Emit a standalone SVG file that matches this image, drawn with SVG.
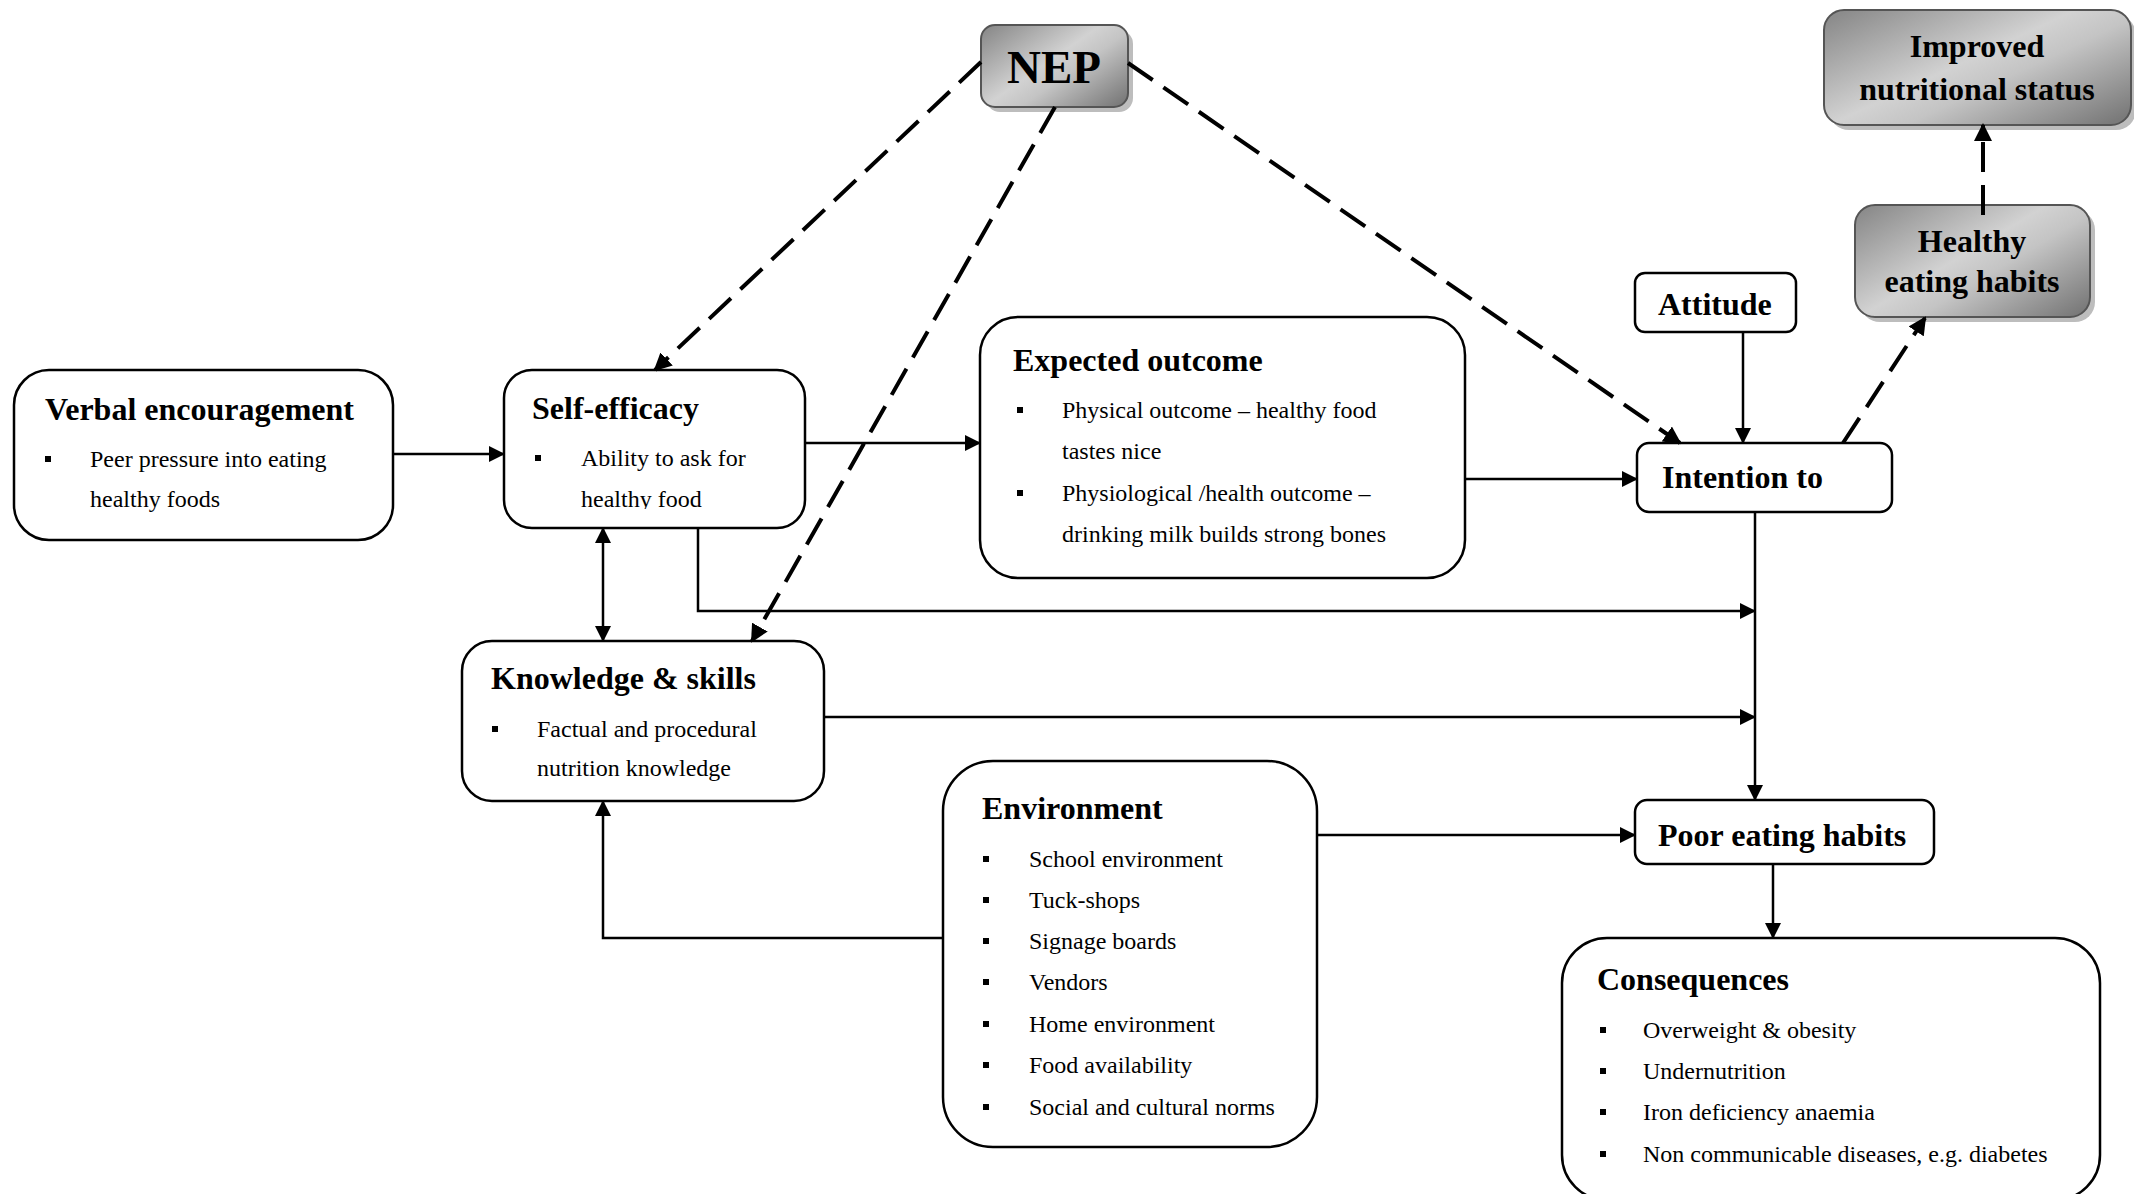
<svg xmlns="http://www.w3.org/2000/svg" xmlns:xlink="http://www.w3.org/1999/xlink" width="2134" height="1194" viewBox="0 0 2134 1194">
  <style>
    .box { fill: #fff; stroke: #000; stroke-width: 2.5; }
    .gbox { fill: url(#grey); stroke: #555; stroke-width: 2; }
    .shadow { fill: #bdbdbd; }
    .t { font-family: "Liberation Serif", "Times New Roman", serif; font-weight: bold; font-size: 32px; fill: #000; }
    .nep { font-family: "Liberation Serif", "Times New Roman", serif; font-weight: bold; font-size: 47px; fill: #000; }
    .b { font-family: "Liberation Serif", "Times New Roman", serif; font-size: 24px; fill: #000; }
    .ln { fill: none; stroke: #000; stroke-width: 2.5; }
    .dash { fill: none; stroke: #000; stroke-width: 4; stroke-dasharray: 30 13; }
  </style>
  <defs>
    <linearGradient id="grey" x1="0" y1="0.1" x2="1" y2="0.9">
      <stop offset="0" stop-color="#8c8c8c"/>
      <stop offset="0.45" stop-color="#d2d2d2"/>
      <stop offset="0.6" stop-color="#c4c4c4"/>
      <stop offset="1" stop-color="#7a7a7a"/>
    </linearGradient>
    <marker id="ah" viewBox="0 0 16 16" markerWidth="16" markerHeight="16" refX="15" refY="8" orient="auto-start-reverse" markerUnits="userSpaceOnUse">
      <path d="M0,0 L16,8 L0,16 z" fill="#000"/>
    </marker>
    <marker id="ahd" viewBox="0 0 18 18" markerWidth="18" markerHeight="18" refX="16" refY="9" orient="auto" markerUnits="userSpaceOnUse">
      <path d="M0,0 L18,9 L0,18 z" fill="#000"/>
    </marker>
    <rect id="bu" width="6" height="6" fill="#000"/>
    <clipPath id="clipSelf">
      <rect x="504" y="370" width="301" height="139"/>
    </clipPath>
  </defs>

  <rect width="2134" height="1194" fill="#fff"/>

  <!-- NEP -->
  <g id="nep">
    <rect class="shadow" x="986" y="30" width="147" height="82" rx="14"/>
    <rect class="gbox" x="981" y="25" width="147" height="82" rx="14"/>
    <text class="nep" x="1054" y="83" text-anchor="middle">NEP</text>
  </g>

  <!-- Improved nutritional status -->
  <g id="improved">
    <rect class="shadow" x="1829" y="15" width="307" height="115" rx="20"/>
    <rect class="gbox" x="1824" y="10" width="307" height="115" rx="20"/>
    <text class="t" x="1977" y="57" text-anchor="middle">Improved</text>
    <text class="t" x="1977" y="100" text-anchor="middle">nutritional status</text>
  </g>

  <!-- Healthy eating habits -->
  <g id="healthy">
    <rect class="shadow" x="1860" y="210" width="235" height="112" rx="20"/>
    <rect class="gbox" x="1855" y="205" width="235" height="112" rx="20"/>
    <text class="t" x="1972" y="252" text-anchor="middle">Healthy</text>
    <text class="t" x="1972" y="292" text-anchor="middle">eating habits</text>
  </g>

  <!-- Verbal encouragement -->
  <g id="verbal">
    <rect class="box" x="14" y="370" width="379" height="170" rx="35"/>
    <text class="t" x="45" y="420">Verbal encouragement</text>
    <use xlink:href="#bu" x="45" y="456"/>
    <text class="b" x="90" y="467">Peer pressure into eating</text>
    <text class="b" x="90" y="507">healthy foods</text>
  </g>

  <!-- Self-efficacy -->
  <g id="self-efficacy">
    <rect class="box" x="504" y="370" width="301" height="158" rx="28"/>
    <text class="t" x="532" y="419">Self-efficacy</text>
    <use xlink:href="#bu" x="535" y="455"/>
    <g clip-path="url(#clipSelf)">
      <text class="b" x="581" y="466">Ability to ask for</text>
      <text class="b" x="581" y="507">healthy food</text>
    </g>
  </g>

  <!-- Expected outcome -->
  <g id="expected-outcome">
    <rect class="box" x="980" y="317" width="485" height="261" rx="38"/>
    <text class="t" x="1013" y="371">Expected outcome</text>
    <use xlink:href="#bu" x="1017" y="407"/>
    <text class="b" x="1062" y="418">Physical outcome – healthy food</text>
    <text class="b" x="1062" y="459">tastes nice</text>
    <use xlink:href="#bu" x="1017" y="490"/>
    <text class="b" x="1062" y="501">Physiological /health outcome –</text>
    <text class="b" x="1062" y="542">drinking milk builds strong bones</text>
  </g>

  <!-- Attitude -->
  <g id="attitude">
    <rect class="box" x="1635" y="273" width="161" height="59" rx="10"/>
    <text class="t" x="1658" y="315">Attitude</text>
  </g>

  <!-- Intention to -->
  <g id="intention">
    <rect class="box" x="1637" y="443" width="255" height="69" rx="12"/>
    <text class="t" x="1662" y="488">Intention to</text>
  </g>

  <!-- Knowledge & skills -->
  <g id="knowledge">
    <rect class="box" x="462" y="641" width="362" height="160" rx="30"/>
    <text class="t" x="491" y="689">Knowledge &amp; skills</text>
    <use xlink:href="#bu" x="492" y="726"/>
    <text class="b" x="537" y="737">Factual and procedural</text>
    <text class="b" x="537" y="776">nutrition knowledge</text>
  </g>

  <!-- Environment -->
  <g id="environment">
    <rect class="box" x="943" y="761" width="374" height="386" rx="50"/>
    <text class="t" x="982" y="819">Environment</text>
    <use xlink:href="#bu" x="983" y="856"/>
    <text class="b" x="1029" y="867">School environment</text>
    <use xlink:href="#bu" x="983" y="897"/>
    <text class="b" x="1029" y="908">Tuck-shops</text>
    <use xlink:href="#bu" x="983" y="938"/>
    <text class="b" x="1029" y="949">Signage boards</text>
    <use xlink:href="#bu" x="983" y="979"/>
    <text class="b" x="1029" y="990">Vendors</text>
    <use xlink:href="#bu" x="983" y="1021"/>
    <text class="b" x="1029" y="1032">Home environment</text>
    <use xlink:href="#bu" x="983" y="1062"/>
    <text class="b" x="1029" y="1073">Food availability</text>
    <use xlink:href="#bu" x="983" y="1104"/>
    <text class="b" x="1029" y="1115">Social and cultural norms</text>
  </g>

  <!-- Poor eating habits -->
  <g id="poor-eating">
    <rect class="box" x="1635" y="800" width="299" height="64" rx="12"/>
    <text class="t" x="1658" y="846">Poor eating habits</text>
  </g>

  <!-- Consequences -->
  <g id="consequences">
    <rect class="box" x="1562" y="938" width="538" height="262" rx="45"/>
    <text class="t" x="1597" y="990">Consequences</text>
    <use xlink:href="#bu" x="1600" y="1027"/>
    <text class="b" x="1643" y="1038">Overweight &amp; obesity</text>
    <use xlink:href="#bu" x="1600" y="1068"/>
    <text class="b" x="1643" y="1079">Undernutrition</text>
    <use xlink:href="#bu" x="1600" y="1109"/>
    <text class="b" x="1643" y="1120">Iron deficiency anaemia</text>
    <use xlink:href="#bu" x="1600" y="1151"/>
    <text class="b" x="1643" y="1162">Non communicable diseases, e.g. diabetes</text>
  </g>

  <!-- Connectors -->
  <g id="connectors">
    <path class="ln" d="M393,454 H504" marker-end="url(#ah)"/>
    <path class="ln" d="M805,443 H980" marker-end="url(#ah)"/>
    <path class="ln" d="M603,528 V641" marker-start="url(#ah)" marker-end="url(#ah)"/>
    <path class="ln" d="M698,528 V611 H1755" marker-end="url(#ah)"/>
    <path class="ln" d="M824,717 H1755" marker-end="url(#ah)"/>
    <path class="ln" d="M1465,479 H1637" marker-end="url(#ah)"/>
    <path class="ln" d="M1743,332 V443" marker-end="url(#ah)"/>
    <path class="ln" d="M1755,512 V800" marker-end="url(#ah)"/>
    <path class="ln" d="M1317,835 H1635" marker-end="url(#ah)"/>
    <path class="ln" d="M943,938 H603 V801" marker-end="url(#ah)"/>
    <path class="ln" d="M1773,864 V938" marker-end="url(#ah)"/>

    <path class="dash" d="M981,62 L655,370" marker-end="url(#ahd)"/>
    <path class="dash" d="M1055,107 L752,641" marker-end="url(#ahd)"/>
    <path class="dash" d="M1128,63 L1680,443" marker-end="url(#ahd)"/>
    <path class="dash" d="M1843,443 L1925,318" marker-end="url(#ahd)"/>
    <path class="dash" d="M1983,215 V125" marker-end="url(#ahd)"/>
  </g>
</svg>
